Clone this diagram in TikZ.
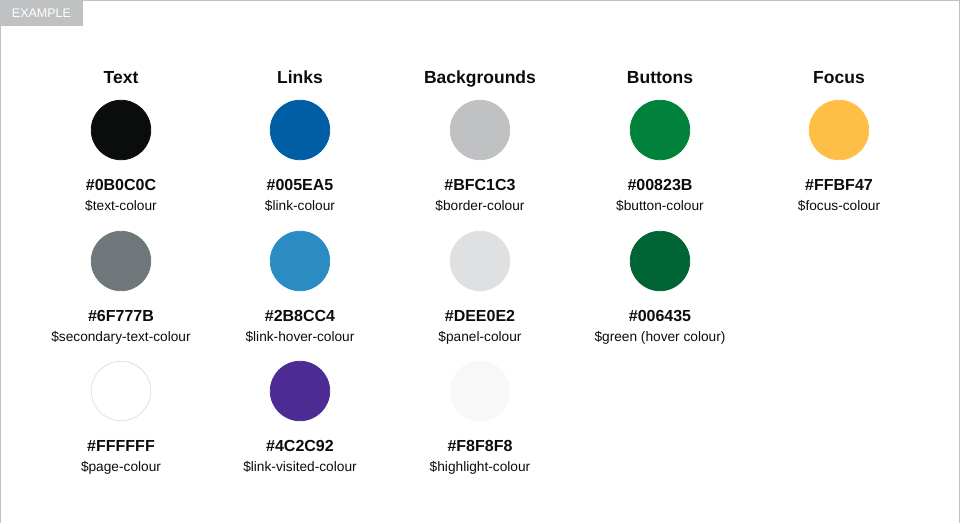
\documentclass[tikz,border=0pt]{standalone}
\usepackage{fontspec}
\setmainfont{Liberation Sans}
\usetikzlibrary{positioning}
\definecolor{Frame}{HTML}{BFC1C3}
\definecolor{Ink}{HTML}{0B0C0C}
\definecolor{Rim}{HTML}{DEE0E2}

\begin{document}
\begin{tikzpicture}[x=1pt,y=-1pt,
    heading/.style={anchor=base,text=Ink,font=\fontsize{17.5}{20}\selectfont\bfseries},
    hexcode/.style={anchor=base,text=Ink,font=\fontsize{16}{19}\selectfont\bfseries},
    varname/.style={anchor=base,text=Ink,font=\fontsize{13.7}{16}\selectfont}]
    \useasboundingbox (0,0) rectangle (960,523);
    % frame and tab
    \draw[Frame] (0.5,523) -- (0.5,0.5) -- (959.5,0.5) -- (959.5,523);
    \fill[Frame] (0,0) rectangle (83,26);
    \node[text=white,font=\fontsize{12.5}{14}\selectfont] (tab) at (41.5,13) {EXAMPLE};
    % column headings
    \foreach \xx/\title [count=\i] in {121/Text,300/Links,480/Backgrounds,660/Buttons,839/Focus}{
      \node[heading] (head-\i) at (\xx,83) {\title};
    }
    % swatches
    \foreach \xx/\yy/\hex/\var/\rim [count=\i] in {
        121/130/0B0C0C/text-colour/0B0C0C,
        121/261/6F777B/secondary-text-colour/6F777B,
        121/391/FFFFFF/page-colour/DEE0E2,
        300/130/005EA5/link-colour/005EA5,
        300/261/2B8CC4/link-hover-colour/2B8CC4,
        300/391/4C2C92/link-visited-colour/4C2C92,
        480/130/BFC1C3/border-colour/BFC1C3,
        480/261/DEE0E2/panel-colour/DEE0E2,
        480/391/F8F8F8/highlight-colour/F8F8F8,
        660/130/00823B/button-colour/00823B,
        660/261/006435/green (hover colour)/006435,
        839/130/FFBF47/focus-colour/FFBF47}{
      \definecolor{swfill}{HTML}{\hex}
      \definecolor{swrim}{HTML}{\rim}
      \node[circle,inner sep=0pt,minimum size=59.5pt,fill=swfill,draw=swrim,line width=.8pt] (sw-\i) at (\xx,\yy) {};
      \node[hexcode] (hex-\i) at (\xx,\yy+60) {\#\hex};
      \node[varname] (var-\i) at (\xx,\yy+80) {\$\var};
    }
  \end{tikzpicture}
\end{document}
